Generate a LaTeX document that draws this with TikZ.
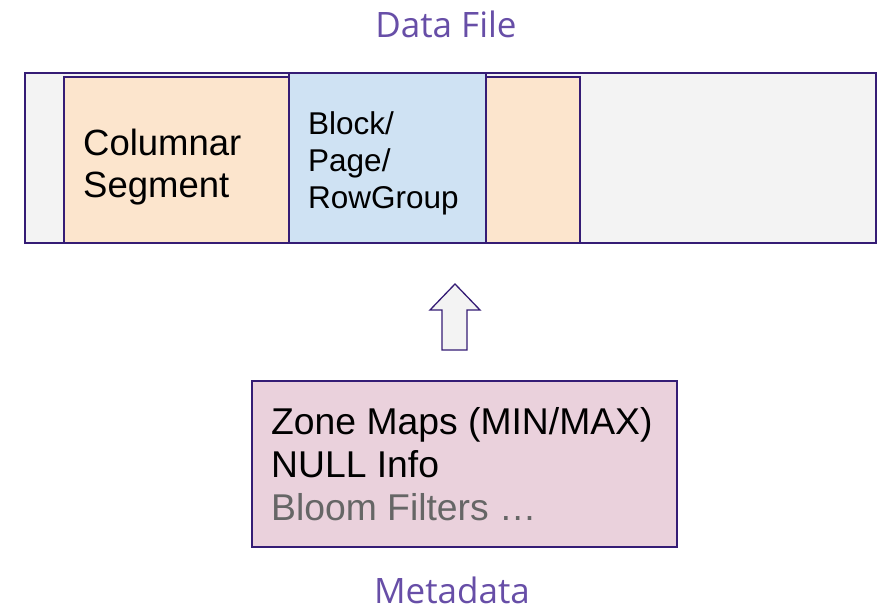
\documentclass[tikz,border=0pt]{standalone}
\usepackage{fontspec}
\setmainfont{Liberation Sans}
\newfontfamily\titlefont{Open Sans}
\definecolor{edge}{HTML}{351C75}
\definecolor{grayfill}{HTML}{F3F3F3}
\definecolor{orangefill}{HTML}{FCE5CD}
\definecolor{bluefill}{HTML}{CFE2F3}
\definecolor{pinkfill}{HTML}{EAD1DC}
\definecolor{titlecol}{HTML}{674EA7}
\definecolor{dimtext}{HTML}{666666}
\begin{document}
\begin{tikzpicture}[x=1pt,y=-1pt,
  boxstyle/.style={draw=edge, line width=1.6pt},
  title/.style={font=\titlefont\fontsize{35}{40}\selectfont, text=titlecol, inner sep=0pt},
  label/.style={anchor=base west, inner sep=0pt, align=left}]
\useasboundingbox (0,0) rectangle (884,610);
% data file strip
\path[boxstyle, fill=grayfill] (25,73) rectangle (876,243);
\path[boxstyle, fill=orangefill] (64,77) rectangle (289,243);
\path[boxstyle, fill=orangefill] (486,77) rectangle (580,243);
\path[boxstyle, fill=bluefill] (289,73) rectangle (486,243);
\node[title, anchor=base] (dft) at (446,38) {Data File};
% multi-line labels are anchored at the baseline of their last line
\node[label, font=\fontsize{36.5}{42}\selectfont] (colseg) at (83,197) {Columnar\\Segment};
\node[label, font=\fontsize{31.5}{37}\selectfont] (blk) at (308,208) {Block/\\Page/\\RowGroup};
% upward block arrow
\path[boxstyle, line width=1.3pt, fill=grayfill]
  (442,350) -- (442,310) -- (430,310) -- (455,284) -- (480,310) -- (467,310) -- (467,350) -- cycle;
% metadata box
\path[boxstyle, fill=pinkfill] (252,381) rectangle (677,547);
\node[label, font=\fontsize{37.3}{43}\selectfont] (meta) at (271,520)
  {Zone Maps (MIN/MAX)\\NULL Info\\\textcolor{dimtext}{Bloom Filters \dots}};
\node[title, anchor=base] (mdt) at (452,603) {Metadata};
\end{tikzpicture}
\end{document}
